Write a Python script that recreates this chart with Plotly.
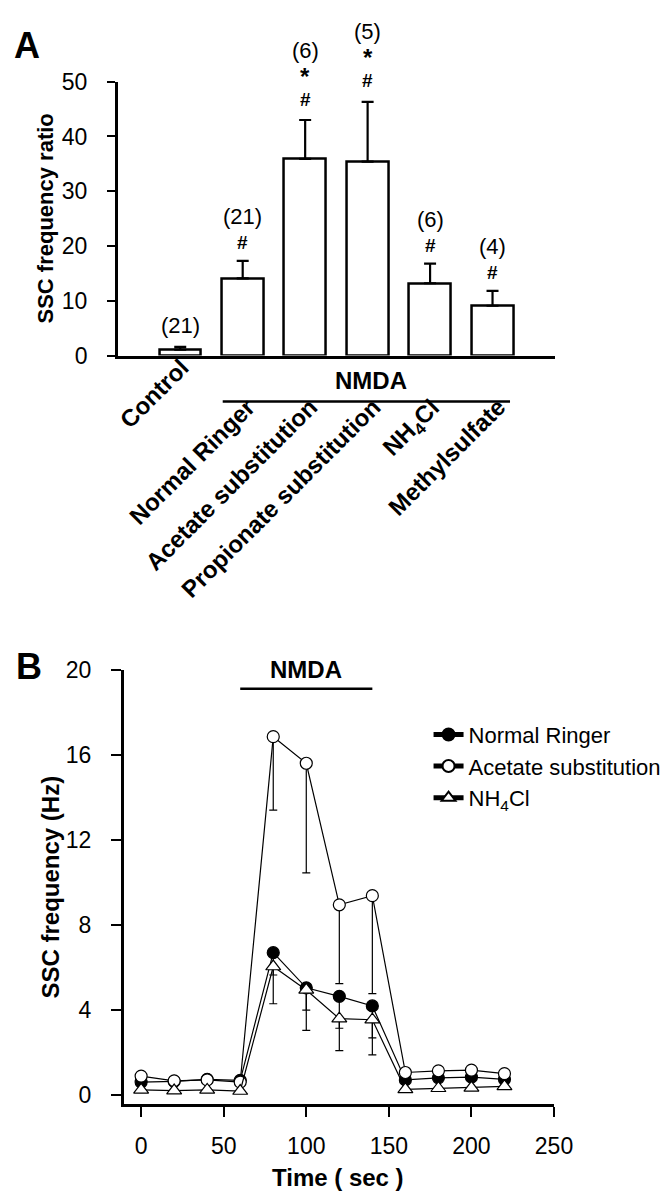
import plotly.graph_objects as go

W, H = 668, 1199
FONT = "Liberation Sans, Arial, Helvetica, sans-serif"

# ---------------- Panel A data ----------------
categories = ["Control", "Normal Ringer", "Acetate substitution",
              "Propionate substitution", "NH<sub>4</sub>Cl", "Methylsulfate"]
ratio_mean = [1.1, 14.1, 35.9, 35.4, 13.2, 9.1]
ratio_sem = [0.5, 3.2, 7.1, 10.9, 3.6, 2.7]
n_cells = ["(21)", "(21)", "(6)", "(5)", "(6)", "(4)"]
sig_star = ["", "", "*", "*", "", ""]
sig_hash = ["", "#", "#", "#", "#", "#"]
ytick_a = [0, 10, 20, 30, 40, 50]

# ---------------- Panel B data ----------------
time_s = [0, 20, 40, 60, 80, 100, 120, 140, 160, 180, 200, 220]
ringer = [0.62, 0.65, 0.75, 0.70, 6.70, 5.05, 4.65, 4.20, 0.72, 0.82, 0.85, 0.75]
ringer_err = [0, 0, 0, 0, 2.4, 2.0, 2.55, 2.3, 0, 0, 0, 0]
acetate = [0.90, 0.68, 0.72, 0.62, 16.85, 15.6, 8.95, 9.38, 1.07, 1.15, 1.18, 1.02]
acetate_err = [0.1, 0.05, 0.05, 0.05, 3.45, 5.15, 3.7, 4.6, 0.1, 0.1, 0.1, 0.1]
nh4cl = [0.25, 0.22, 0.25, 0.20, 6.05, 4.95, 3.60, 3.55, 0.28, 0.33, 0.35, 0.42]
nh4cl_err = [0, 0, 0, 0, 0.4, 0.95, 0.45, 0.85, 0, 0, 0, 0]
xtick_b = [0, 50, 100, 150, 200, 250]
ytick_b = [0, 4, 8, 12, 16, 20]

# ---------------- layout geometry ----------------
xA_dom = [113 / W, 563 / W]
yA_dom = [1 - 342 / H, 1 - 62 / H]
xA_rng = [-1.0, 6.0]
yA_rng = [0, 50]
xB_dom = [119 / W, 562 / W]
yB_dom = [1 - 1107 / H, 1 - 663 / H]
xB_rng = [-10.6, 250]
yB_rng = [-0.41, 20]


def to_paper_x(v, rng, dom):
    return dom[0] + (v - rng[0]) / (rng[1] - rng[0]) * (dom[1] - dom[0])


fig = go.Figure()

# Panel A bars
fig.add_trace(go.Bar(
    x=list(range(len(categories))), y=ratio_mean, width=0.67,
    marker=dict(color="white", line=dict(color="black", width=2.5)),
    error_y=dict(type="data", symmetric=False, array=ratio_sem,
                 arrayminus=[0] * len(ratio_sem), thickness=2.2, width=6,
                 color="black"),
    xaxis="x", yaxis="y", showlegend=False, hoverinfo="skip",
))

# Panel B lines
common_line = dict(color="black", width=1.2)
fig.add_trace(go.Scatter(
    x=time_s, y=ringer, name="Normal Ringer", mode="lines+markers",
    line=common_line,
    marker=dict(symbol="circle", size=12, color="black",
                line=dict(color="black", width=1.2)),
    error_y=dict(type="data", symmetric=False, array=[0] * len(time_s),
                 arrayminus=ringer_err, thickness=1.2, width=4, color="black"),
    xaxis="x2", yaxis="y2", cliponaxis=False,
))
fig.add_trace(go.Scatter(
    x=time_s, y=acetate, name="Acetate substitution", mode="lines+markers",
    line=common_line,
    marker=dict(symbol="circle", size=12, color="white",
                line=dict(color="black", width=1.2)),
    error_y=dict(type="data", symmetric=False, array=[0] * len(time_s),
                 arrayminus=acetate_err, thickness=1.2, width=4, color="black"),
    xaxis="x2", yaxis="y2", cliponaxis=False,
))
fig.add_trace(go.Scatter(
    x=time_s, y=nh4cl, name="NH<sub>4</sub>Cl", mode="lines+markers",
    line=common_line,
    marker=dict(symbol="triangle-up", size=13, color="white",
                line=dict(color="black", width=1.2)),
    error_y=dict(type="data", symmetric=False, array=[0] * len(time_s),
                 arrayminus=nh4cl_err, thickness=1.2, width=4, color="black"),
    xaxis="x2", yaxis="y2", cliponaxis=False,
))

annotations = []

# significance + n labels above bars
for i in range(len(categories)):
    top = ratio_mean[i] + ratio_sem[i]
    starred = sig_star[i] != ""
    if sig_hash[i]:
        annotations.append(dict(text="<b>#</b>", x=i, y=top, xref="x", yref="y",
                                xanchor="center", yanchor="middle",
                                yshift=21 if starred else 18, showarrow=False,
                                font=dict(size=19)))
    if starred:
        annotations.append(dict(text="<b>*</b>", x=i, y=top, xref="x", yref="y",
                                xanchor="center", yanchor="middle",
                                yshift=44, showarrow=False, font=dict(size=24)))
        nshift = 70
    elif sig_hash[i]:
        nshift = 44
    else:
        nshift = 21
    annotations.append(dict(text=n_cells[i], x=i, y=top, xref="x", yref="y",
                            xanchor="center", yanchor="middle",
                            yshift=nshift, showarrow=False, font=dict(size=22)))

# rotated category labels
for i, cat in enumerate(categories):
    annotations.append(dict(text=f"<b>{cat}</b>", x=i, y=0, xref="x", yref="y",
                            xanchor="right", yanchor="top", textangle=-45,
                            xshift=16 if i == 0 else 20,
                            yshift=5 if i == 0 else -35,
                            showarrow=False, font=dict(size=24)))

# NMDA group label, panel A
annotations.append(dict(text="<b>NMDA</b>", x=3.0, y=0, xref="x", yref="y",
                        xanchor="center", yanchor="middle",
                        yshift=-25, xshift=3, showarrow=False,
                        font=dict(size=24)))
# NMDA label, panel B
annotations.append(dict(text="<b>NMDA</b>", x=100, y=20, xref="x2", yref="y2",
                        xanchor="center", yanchor="middle", showarrow=False,
                        font=dict(size=24)))

# panel letters
annotations.append(dict(text="<b>A</b>", x=20 / W, y=1 - 25 / H, xref="paper",
                        yref="paper", xanchor="center", yanchor="middle",
                        showarrow=False, font=dict(size=36)))
annotations.append(dict(text="<b>B</b>", x=22 / W, y=1 - 660 / H, xref="paper",
                        yref="paper", xanchor="center", yanchor="middle",
                        showarrow=False, font=dict(size=36)))

# axis titles
annotations.append(dict(text="<b>SSC frequency ratio</b>", x=39 / W,
                        y=(yA_dom[0] + yA_dom[1]) / 2, xref="paper", yref="paper",
                        xanchor="center", yanchor="middle",
                        textangle=-90, showarrow=False, font=dict(size=22)))
annotations.append(dict(text="<b>SSC frequency (Hz)</b>", x=44 / W,
                        y=(yB_dom[0] + yB_dom[1]) / 2, xref="paper", yref="paper",
                        xanchor="center", yanchor="middle",
                        textangle=-90, showarrow=False, font=dict(size=24)))
annotations.append(dict(text="<b>Time ( sec )</b>", x=340 / W, y=1 - 1182 / H,
                        xref="paper", yref="paper", xanchor="center",
                        yanchor="middle", showarrow=False, font=dict(size=24)))

shapes = [
    # NMDA bar under the axis of panel A
    dict(type="line", xref="paper", yref="paper",
         x0=to_paper_x(0.68, xA_rng, xA_dom), x1=to_paper_x(5.28, xA_rng, xA_dom),
         y0=yA_dom[0] - 47 / H, y1=yA_dom[0] - 47 / H,
         line=dict(color="black", width=2.5)),
    # NMDA application period, panel B
    dict(type="line", xref="x2", yref="y2", x0=60, x1=140, y0=19.1, y1=19.1,
         line=dict(color="black", width=2.5)),
]

axis_common = dict(showgrid=False, zeroline=False, showline=True,
                   linecolor="black", linewidth=2.5, tickcolor="black",
                   tickfont=dict(size=23, color="black"))

fig.update_layout(
    width=W, height=H,
    margin=dict(l=0, r=0, t=0, b=0),
    paper_bgcolor="white", plot_bgcolor="white",
    font=dict(family=FONT, color="black"),
    bargap=0,
    xaxis=dict(domain=xA_dom, range=xA_rng, anchor="y", showticklabels=False,
               ticks="", **axis_common),
    yaxis=dict(domain=yA_dom, range=yA_rng, anchor="x", tickvals=ytick_a,
               ticks="outside", ticklen=8, tickwidth=2, ticklabelstandoff=15,
               **axis_common),
    xaxis2=dict(domain=xB_dom, range=xB_rng, anchor="y2", tickvals=xtick_b,
                ticks="outside", ticklen=10, tickwidth=2, ticklabelstandoff=10,
                **axis_common),
    yaxis2=dict(domain=yB_dom, range=yB_rng, anchor="x2", tickvals=ytick_b,
                ticks="outside", ticklen=10, tickwidth=2, ticklabelstandoff=15,
                **axis_common),
    legend=dict(x=0.648, y=1 - 708 / H, xanchor="left", yanchor="top",
                font=dict(size=22, color="black"), bgcolor="rgba(0,0,0,0)",
                tracegroupgap=0, itemsizing="constant"),
    annotations=annotations,
    shapes=shapes,
)

fig.write_html("out.html")
